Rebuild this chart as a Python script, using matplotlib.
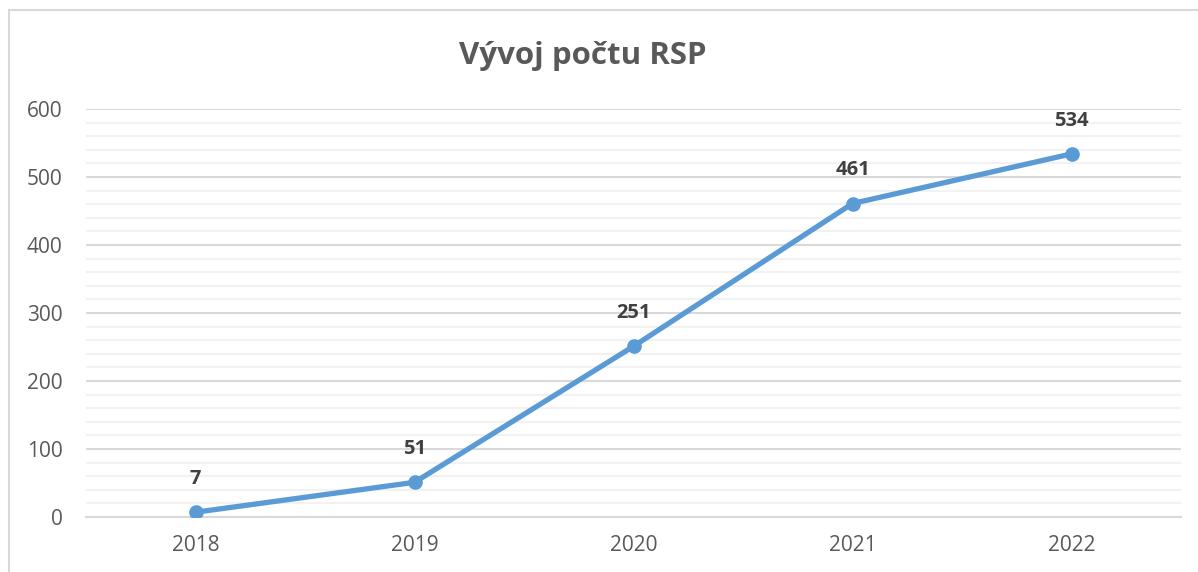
import matplotlib.pyplot as plt
from matplotlib.patches import Rectangle

years = ['2018', '2019', '2020', '2021', '2022']
counts = [7, 51, 251, 461, 534]
y_ticks = [0, 100, 200, 300, 400, 500, 600]

plt.rcParams['font.family'] = ['Open Sans', 'DejaVu Sans']

W, H = 1198, 572
fig = plt.figure(figsize=(W / 100, H / 100), dpi=100)
ax = fig.add_axes([86 / W, 55 / H, (1181 - 86) / W, (517 - 109) / H])

# outer chart border (right and bottom edges fall outside the image)
fig.patches.append(Rectangle((9 / W, -0.05), 1.2, (H - 10) / H + 0.05,
                             transform=fig.transFigure, fill=False,
                             edgecolor='#D9D9D9', linewidth=1.5))

x = list(range(len(years)))
ax.plot(x, counts, color='#5B9BD5', linewidth=3.8, marker='o',
        markersize=9.5, solid_capstyle='round', zorder=3)

for xi, v in zip(x, counts):
    ax.annotate(str(v), (xi, v), xytext=(0, 24), textcoords='offset points',
                ha='center', va='center', fontsize=14.5, fontweight='bold',
                color='#404040')

ax.set_xlim(-0.5, len(years) - 0.5)
ax.set_ylim(0, 600)
ax.set_xticks(x)
ax.set_xticklabels(years)
ax.set_yticks(y_ticks)
ax.set_yticks(range(0, 601, 20), minor=True)

ax.grid(axis='y', which='major', color='#D9D9D9', linewidth=1.5, zorder=0)
ax.grid(axis='y', which='minor', color='#F2F2F2', linewidth=1.5, zorder=0)
ax.set_axisbelow(True)

for s in ['top', 'right', 'left']:
    ax.spines[s].set_visible(False)
ax.spines['bottom'].set_color('#D9D9D9')
ax.spines['bottom'].set_linewidth(1.5)

ax.tick_params(axis='both', which='both', length=0, labelsize=15,
               labelcolor='#595959')
ax.tick_params(axis='y', pad=17)
ax.tick_params(axis='x', pad=13)

fig.text((458 + 708) / 2 / W, 1 - 56 / H, 'Vývoj počtu RSP', ha='center',
         va='center', fontsize=22.5, fontweight='bold', color='#595959')

fig.savefig('out.png', dpi=100)
